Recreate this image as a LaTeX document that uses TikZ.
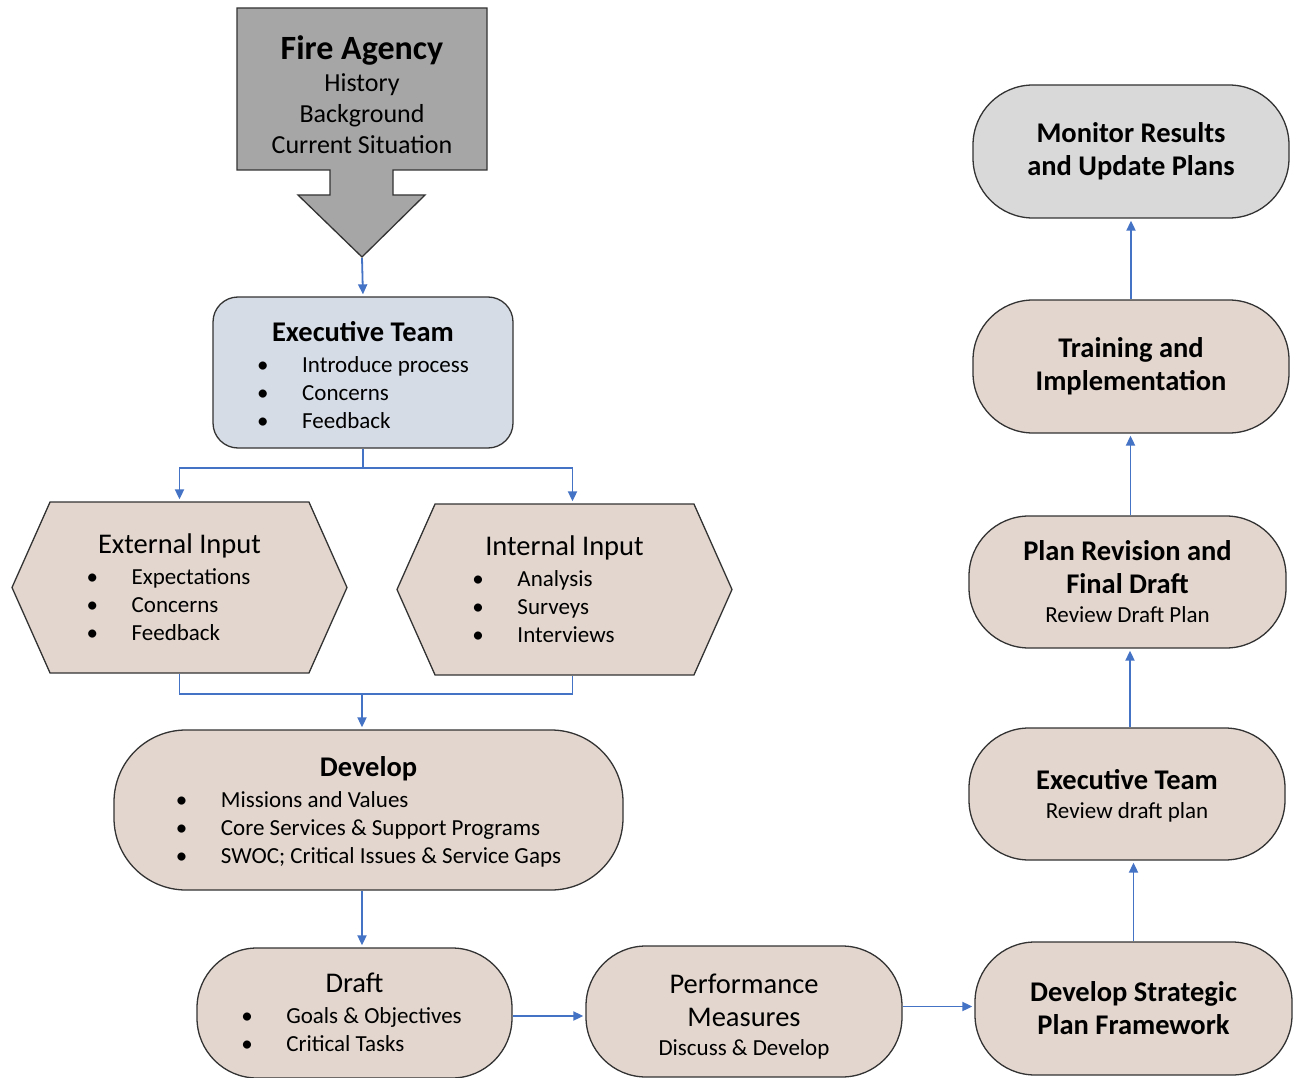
\documentclass[tikz,border=0pt]{standalone}
\usepackage{fontspec}
\setmainfont{Carlito}
\usetikzlibrary{arrows.meta,shapes.symbols,positioning}

\definecolor{boxtan}{HTML}{E2D6CE}
\definecolor{boxblue}{HTML}{D6DCE5}
\definecolor{boxgrey}{HTML}{D9D9D9}
\definecolor{agency}{HTML}{A6A6A6}
\definecolor{flow}{HTML}{4472C4}

\newcommand{\bodyfont}{\fontsize{23}{28}\selectfont}
\newcommand{\ttl}{\fontsize{28.5}{33}\selectfont}
\newcommand{\itm}{\makebox[45pt][l]{\textbullet}}
% taller first line pushes the whole text block down
\newcommand{\lift}[1]{\rule{0pt}{#1}}

\begin{document}
\begin{tikzpicture}[x=1pt,y=-1pt,
box/.style={draw=black!80,line width=1.3pt,fill=boxtan,rounded corners=#1,
            align=center,font=\bodyfont,inner sep=0pt},
box/.default=55,
hexbox/.style={signal,signal to=west and east,signal pointer angle=132,
            draw=black!80,line width=1.3pt,fill=boxtan,align=center,
            font=\bodyfont,inner sep=0pt,minimum width=335,minimum height=171},
link/.style={draw=flow,line width=1.8pt},
conn/.style={link,-{Triangle[length=10pt,width=9pt]},shorten >=2pt}
]
\useasboundingbox (0,0) rectangle (1293,1078);

% agency callout arrow
\draw[fill=agency,draw=black!80,line width=1.3pt]
  (237,8) -- (487,8) -- (487,170) -- (393,170) -- (393,195) -- (425,195)
  -- (362,257) -- (298,195) -- (330,195) -- (330,170) -- (237,170) -- cycle;
\node[align=center,font=\fontsize{26}{31}\selectfont,inner sep=0pt] (fire) at (362,95)
  {{\fontsize{34}{31}\selectfont\bfseries Fire Agency}\\[1pt]History\\Background\\Current Situation};
\coordinate (firetip) at (362,258);

% left column
\node[box=25,fill=boxblue,minimum width=300,minimum height=151] (exec) at (363,372.5)
  {{\ttl\bfseries\lift{34pt}Executive Team}\\[3pt]
   \begin{tabular}[t]{@{}l@{}}\itm Introduce process\\ \itm Concerns\\ \itm Feedback\end{tabular}};

\node[hexbox] (ext) at (179.5,587.5)
  {{\ttl\lift{28pt}External Input}\\[3pt]
   \hspace*{-22pt}\begin{tabular}[t]{@{}l@{}}\itm Expectations\\ \itm Concerns\\ \itm Feedback\end{tabular}};
\node[hexbox] (int) at (564.5,589.5)
  {{\ttl\lift{28pt}Internal Input}\\[3pt]
   \hspace*{-42pt}\begin{tabular}[t]{@{}l@{}}\itm Analysis\\ \itm Surveys\\ \itm Interviews\end{tabular}};

\node[box=72,minimum width=509,minimum height=160] (dev) at (368.5,810)
  {{\ttl\bfseries\lift{29pt}Develop}\\[3pt]
   \begin{tabular}[t]{@{}l@{}}\itm Missions and Values\\ \itm Core Services \& Support Programs\\
   \itm SWOC; Critical Issues \& Service Gaps\end{tabular}};

\node[box=60,minimum width=315,minimum height=130] (draft) at (354.5,1013)
  {{\ttl\lift{27pt}Draft}\\[3pt]
   \hspace*{-6pt}\begin{tabular}[t]{@{}l@{}}\itm Goals \& Objectives\\ \itm Critical Tasks\end{tabular}};

\node[box=60,minimum width=316,minimum height=131,font=\ttl] (perf) at (744,1011.5)
  {\lift{30pt}Performance\\Measures\\[-4pt]{\bodyfont Discuss \& Develop}};

% right column, bottom to top
\node[box=60,minimum width=317,minimum height=133,font=\ttl\bfseries] (strat) at (1133.5,1008.5)
  {Develop Strategic\\Plan Framework};
\node[box=60,minimum width=316,minimum height=132,font=\ttl\bfseries] (exec2) at (1127,794)
  {\lift{24pt}Executive Team\\[-4pt]{\bodyfont\mdseries Review draft plan}};
\node[box=60,minimum width=317,minimum height=132,font=\ttl\bfseries] (rev) at (1127.5,582)
  {Plan Revision and\\Final Draft\\[-4pt]{\bodyfont\mdseries Review Draft Plan}};
\node[box=60,minimum width=316,minimum height=133,font=\ttl\bfseries] (train) at (1131,366.5)
  {Training and\\Implementation};
\node[box=60,fill=boxgrey,minimum width=316,minimum height=133,font=\ttl\bfseries] (mon) at (1131,151.5)
  {Monitor Results\\and Update Plans};

% connectors
\coordinate (split) at (363,468);
\coordinate (join) at (362,694);
\draw[conn] (firetip) -- (exec.north);
\draw[link] (exec.south) -- (split);
\draw[conn] (split) -| (ext.north);
\draw[conn] (split) -| ([xshift=8pt]int.north);
\draw[link] (ext.south) |- (join) -| ([xshift=8pt]int.south);
\draw[conn] (join) -- (dev.north -| join);
\draw[conn] (dev.south -| join) -- (draft.north -| join);
\draw[conn] ([yshift=-3pt]draft.east) -- ([yshift=-3pt]draft.east -| perf.west);
\draw[conn] ([yshift=5pt]perf.east) -- ([yshift=5pt]perf.east -| strat.west);
\draw[conn] (strat.north) -- (strat.north |- exec2.south);
\draw[conn] ([xshift=3pt]exec2.north) -- ([xshift=3pt]exec2.north |- rev.south);
\draw[conn] ([xshift=3pt]rev.north) -- ([xshift=3pt]rev.north |- train.south);
\draw[conn] (train.north) -- (mon.south);
\end{tikzpicture}
\end{document}
